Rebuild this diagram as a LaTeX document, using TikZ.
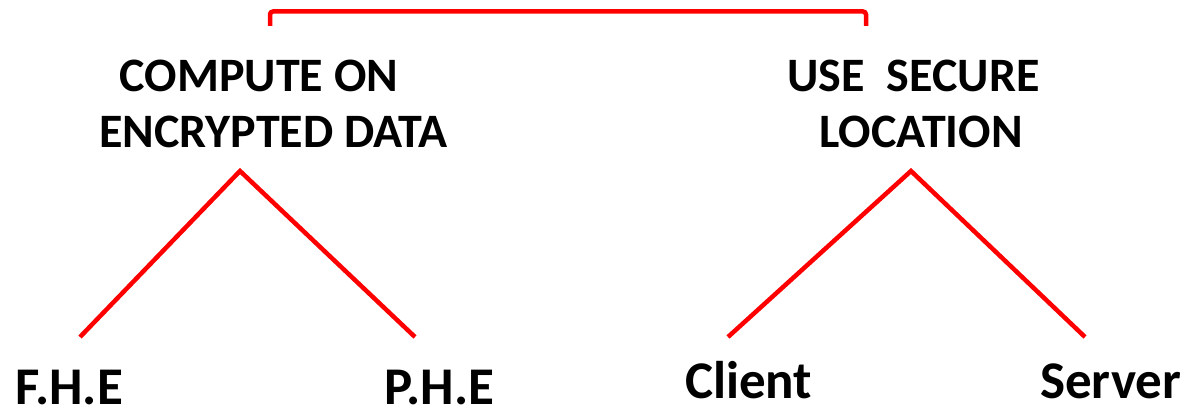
\documentclass[tikz,border=0pt]{standalone}
\usepackage{fontspec}
\setmainfont{Carlito}
\tikzset{
  redline/.style={draw=red, line width=4.5pt},
  head/.style={inner sep=0pt, font=\fontsize{48}{56}\selectfont\bfseries},
  leaf/.style={inner sep=0pt, font=\fontsize{53}{60}\selectfont\bfseries, anchor=base west}
}
\begin{document}
\begin{tikzpicture}[x=1pt,y=-1pt]
\useasboundingbox (0,0) rectangle (1187,409);
\fill[white] (0,0) rectangle (1187,409);
% bracket
\coordinate (bl) at (270,26);
\coordinate (br) at (866,26);
\draw[redline, rounded corners=3pt] (bl) -- (270,11.5) -- (866,11.5) -- (br);
% headings
\node[head, anchor=north, align=center] (compute) at (273.5,60) {COMPUTE ON\hspace*{29pt}\\ENCRYPTED DATA};
\node[head, anchor=north, align=center] (secure) at (921,60) {USE\ \ SECURE\hspace*{15pt}\\LOCATION};
% leaves
\node[leaf] (fhe) at (15,404) {F.H.E};
\node[leaf] (phe) at (384,404) {P.H.E};
\node[leaf] (client) at (685,398) {Client};
\node[leaf] (server) at (1040,398) {Server};
% tree lines
\coordinate (apexL) at (240,171);
\coordinate (apexR) at (911,171);
\coordinate (fheT) at (80,337);
\coordinate (pheT) at (415,337);
\coordinate (clientT) at (728,337);
\coordinate (serverT) at (1085,337);
\draw[redline] (fheT) -- (apexL) -- (pheT);
\draw[redline] (clientT) -- (apexR) -- (serverT);
\end{tikzpicture}
\end{document}
